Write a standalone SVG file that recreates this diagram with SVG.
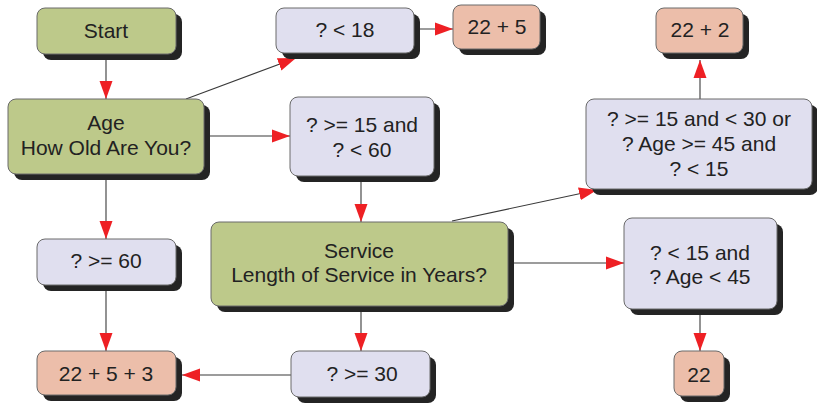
<svg xmlns="http://www.w3.org/2000/svg" width="817" height="404" viewBox="0 0 817 404">
  <style>
    .shadow { fill: #242424; }
    .box { stroke: #6a6a6a; stroke-width: 1; }
    .green { fill: #bdc98a; }
    .lav { fill: #e0dfef; }
    .sal { fill: #ecbeaa; }
    .lbl { font-family: "Liberation Sans", Arial, sans-serif; font-size: 21px; fill: #222; text-anchor: middle; }
    .edge { stroke: #3a3a3a; stroke-width: 1.1; fill: none; marker-end: url(#arrow); }
  </style>
  <defs>
    <marker id="arrow" markerUnits="userSpaceOnUse" markerWidth="18" markerHeight="14" refX="18" refY="7" orient="auto">
      <path d="M0,0.5 L18,7 L0,13.5 z" fill="#ee2024"/>
    </marker>
  </defs>
  <rect width="817" height="404" fill="#ffffff"/>

  <g id="connectors">
    <line class="edge" x1="106" y1="60" x2="106" y2="99"/>
    <line class="edge" x1="186" y1="99" x2="296" y2="58"/>
    <line class="edge" x1="420" y1="29" x2="453" y2="29"/>
    <line class="edge" x1="210" y1="136" x2="290" y2="136"/>
    <line class="edge" x1="106" y1="180" x2="106" y2="239"/>
    <line class="edge" x1="106" y1="291" x2="106" y2="351"/>
    <line class="edge" x1="361" y1="182" x2="361" y2="222"/>
    <line class="edge" x1="452" y1="221" x2="597" y2="190"/>
    <line class="edge" x1="700" y1="99" x2="700" y2="60"/>
    <line class="edge" x1="514" y1="263" x2="624" y2="263"/>
    <line class="edge" x1="361" y1="311" x2="361" y2="351"/>
    <line class="edge" x1="291" y1="375" x2="182" y2="375"/>
    <line class="edge" x1="700" y1="315" x2="700" y2="351"/>
  </g>

  <g id="start">
    <rect class="shadow" x="43" y="14" width="139" height="46" rx="8"/>
    <rect class="box green" x="37" y="8" width="139" height="46" rx="8"/>
    <text class="lbl" x="106" y="38">Start</text>
  </g>

  <g id="age">
    <rect class="shadow" x="14" y="105" width="196" height="75" rx="8"/>
    <rect class="box green" x="8" y="99" width="196" height="75" rx="8"/>
    <text class="lbl" x="106" y="130">Age</text>
    <text class="lbl" x="106" y="155">How Old Are You?</text>
  </g>

  <g id="lt18">
    <rect class="shadow" x="282" y="14" width="138" height="45" rx="8"/>
    <rect class="box lav" x="276" y="8" width="138" height="45" rx="8"/>
    <text class="lbl" x="345" y="37">? &lt; 18</text>
  </g>

  <g id="r27">
    <rect class="shadow" x="459" y="11" width="87" height="44" rx="8"/>
    <rect class="box sal" x="453" y="5" width="87" height="44" rx="8"/>
    <text class="lbl" x="497" y="34">22 + 5</text>
  </g>

  <g id="ge15lt60">
    <rect class="shadow" x="296" y="103" width="144" height="79" rx="8"/>
    <rect class="box lav" x="290" y="97" width="144" height="79" rx="8"/>
    <text class="lbl" x="362" y="132">? &gt;= 15 and</text>
    <text class="lbl" x="362" y="157">? &lt; 60</text>
  </g>

  <g id="r24">
    <rect class="shadow" x="662" y="14" width="87" height="45" rx="8"/>
    <rect class="box sal" x="656" y="8" width="87" height="45" rx="8"/>
    <text class="lbl" x="700" y="37">22 + 2</text>
  </g>

  <g id="mid-range">
    <rect class="shadow" x="592" y="105" width="226" height="90" rx="8"/>
    <rect class="box lav" x="586" y="99" width="226" height="90" rx="8"/>
    <text class="lbl" x="699" y="126">? &gt;= 15 and &lt; 30 or</text>
    <text class="lbl" x="699" y="151">? Age &gt;= 45 and</text>
    <text class="lbl" x="699" y="176">? &lt; 15</text>
  </g>

  <g id="ge60">
    <rect class="shadow" x="43" y="245" width="139" height="46" rx="8"/>
    <rect class="box lav" x="37" y="239" width="139" height="46" rx="8"/>
    <text class="lbl" x="106" y="268">? &gt;= 60</text>
  </g>

  <g id="r30">
    <rect class="shadow" x="43" y="357" width="139" height="44" rx="8"/>
    <rect class="box sal" x="37" y="351" width="139" height="44" rx="8"/>
    <text class="lbl" x="106" y="381">22 + 5 + 3</text>
  </g>

  <g id="service">
    <rect class="shadow" x="217" y="228" width="297" height="84" rx="8"/>
    <rect class="box green" x="211" y="222" width="297" height="84" rx="8"/>
    <text class="lbl" x="359" y="258">Service</text>
    <text class="lbl" x="359" y="282">Length of Service in Years?</text>
  </g>

  <g id="ge30">
    <rect class="shadow" x="297" y="357" width="139" height="46" rx="8"/>
    <rect class="box lav" x="291" y="351" width="139" height="46" rx="8"/>
    <text class="lbl" x="362" y="381">? &gt;= 30</text>
  </g>

  <g id="lt15age45">
    <rect class="shadow" x="630" y="224" width="153" height="91" rx="8"/>
    <rect class="box lav" x="624" y="218" width="153" height="91" rx="8"/>
    <text class="lbl" x="700" y="260">? &lt; 15 and</text>
    <text class="lbl" x="700" y="284">? Age &lt; 45</text>
  </g>

  <g id="r22">
    <rect class="shadow" x="680" y="357" width="50" height="45" rx="8"/>
    <rect class="box sal" x="674" y="351" width="50" height="45" rx="8"/>
    <text class="lbl" x="699" y="382">22</text>
  </g>
</svg>
